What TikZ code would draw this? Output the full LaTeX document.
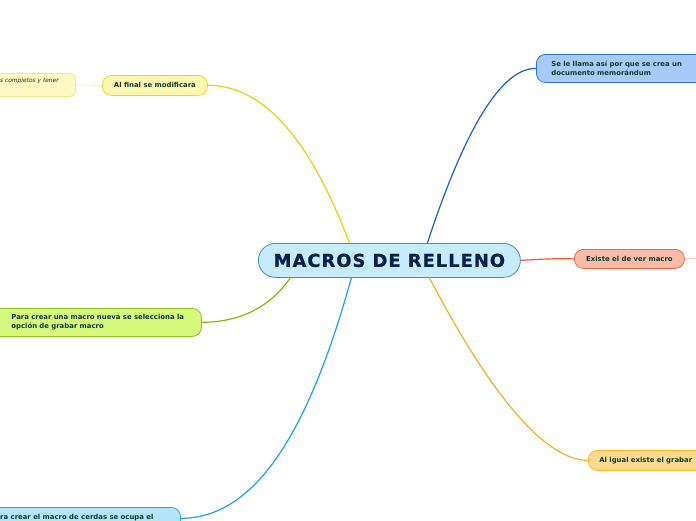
\documentclass[tikz,border=0pt]{standalone}
\usepackage{fontspec}
\newfontfamily\nodefont{DejaVu Sans}
\newfontfamily\titlefont{DejaVu Sans}[LetterSpace=6,FakeBold=1.2]
\definecolor{txt}{HTML}{0F3B2C}
\definecolor{titlec}{HTML}{0B1F4F}
\definecolor{cfill}{HTML}{C6ECFB}
\definecolor{cdraw}{HTML}{3A8FD2}
\definecolor{yfill}{HTML}{FFF6B0}
\definecolor{ydraw}{HTML}{EAD43C}
\definecolor{yline}{HTML}{E8D200}
\definecolor{y2fill}{HTML}{FFF8C2}
\definecolor{y2draw}{HTML}{F3E68C}
\definecolor{bfill}{HTML}{A8CAF8}
\definecolor{bdraw}{HTML}{2F72D2}
\definecolor{bline}{HTML}{1462CC}
\definecolor{ofill}{HTML}{FABBA6}
\definecolor{odraw}{HTML}{F0683A}
\definecolor{oline}{HTML}{F05A22}
\definecolor{gfill}{HTML}{D6F97C}
\definecolor{gdraw}{HTML}{8DC21F}
\definecolor{gline}{HTML}{8AB800}
\definecolor{afill}{HTML}{FFD98C}
\definecolor{adraw}{HTML}{F5B426}
\definecolor{aline}{HTML}{F5B020}
\definecolor{lfill}{HTML}{B4E4F9}
\definecolor{ldraw}{HTML}{22A3E2}
\definecolor{lline}{HTML}{1AA2E4}
\begin{document}
\begin{tikzpicture}[x=1pt,y=-1pt,
  box/.style={rectangle, rounded corners=9pt, line width=0.8pt, anchor=north west,
    font=\nodefont\bfseries\fontsize{6.9}{9}\selectfont, text=txt, inner sep=0pt},
  conn/.style={line width=1.2pt},
  faint/.style={line width=0.6pt}]
\useasboundingbox (0,0) rectangle (696,520);
\clip (0,0) rectangle (696,520);
% central
\node[box, rounded corners=17pt, fill=cfill, draw=cdraw, minimum width=262pt, minimum height=34pt,
  font=\titlefont\bfseries\fontsize{17.8}{20}\selectfont, text=titlec] (c) at (258,243) {MACROS DE RELLENO};
% nodes
\node[box, fill=yfill, draw=ydraw, minimum width=105pt, minimum height=20pt] (n1) at (102,75) {Al final se modificara};
\node[box, fill=y2fill, draw=y2draw, minimum width=95pt, minimum height=23pt, rounded corners=5pt] (n0) at (-20,73) {};
\node[anchor=west, inner sep=0pt, font=\nodefont\itshape\fontsize{5.9}{8}\selectfont, text=black!85] (t0) at (0,81) {s completos y tener};
\node[box, fill=bfill, draw=bdraw, minimum width=180pt, minimum height=28pt, text width=180pt, align=left] (n3) at (536,54) {\hspace*{15pt}Se le llama así por que se crea un\\\hspace*{15pt}documento memorándum};
\node[box, fill=ofill, draw=odraw, minimum width=110pt, minimum height=19pt] (n4) at (574,249) {Existe el de ver macro};
\node[box, fill=gfill, draw=gdraw, minimum width=211pt, minimum height=28pt, text width=211pt, align=left] (n5) at (-10,308) {\hspace*{21pt}Para crear una macro nueva se selecciona la\\\hspace*{21pt}opción de grabar macro};
\node[box, fill=afill, draw=adraw, minimum width=160pt, minimum height=20pt, text width=160pt, align=left] (n6) at (588,450) {\hspace*{11pt}Al igual existe el grabar};
\node[box, fill=lfill, draw=ldraw, minimum width=220pt, minimum height=22pt] (n7) at (-40,507) {};
\node[anchor=west, inner sep=0pt, font=\nodefont\bfseries\fontsize{6.9}{9}\selectfont, text=txt] (t7) at (0,517.5) {ra crear el macro de cerdas se ocupa el};
% connector start points
\coordinate (sy) at ([xshift=-40pt]c.north);
\coordinate (sb) at ([xshift=38pt]c.north);
\coordinate (sg) at ([xshift=-99pt]c.south);
\coordinate (sl) at ([xshift=-38pt]c.south);
\coordinate (sa) at ([xshift=40pt]c.south);
\coordinate (eo) at (700,258);
% connectors
\draw[conn, yline] (sy) .. controls (309.7,137.7) and (262.3,85) .. (n1.east);
\draw[conn, bline] (sb) .. controls (465.7,126.3) and (502,68) .. (n3.west);
\draw[conn, oline] (c.east) .. controls (545,259) and (550,258.5) .. (n4.west);
\draw[conn, gline] (sg) .. controls (270,307) and (240.7,322) .. (n5.east);
\draw[conn, lline] (sl) .. controls (307,437.7) and (253.3,518) .. (n7.east);
\draw[conn, aline] (sa) .. controls (493,399) and (546,460) .. (n6.west);
\draw[faint, y2draw] (n1.west) -- (n0.east);
\draw[faint, odraw!50] (n4.east) -- (eo);
\end{tikzpicture}
\end{document}
